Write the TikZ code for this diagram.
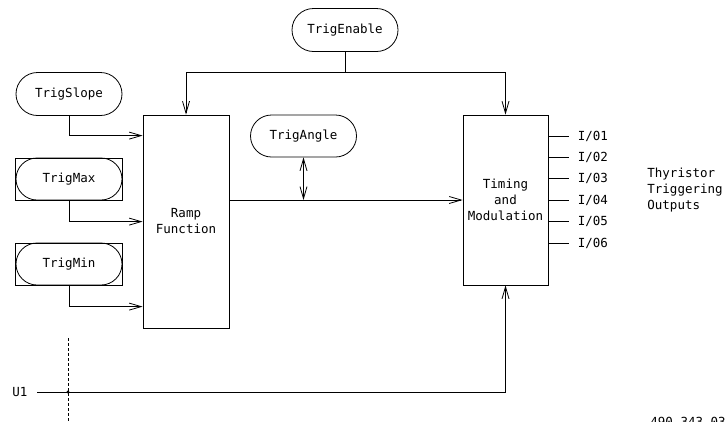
\documentclass[tikz,border=0pt]{standalone}
\usepackage{fontspec}
\newfontfamily\drawfont{DejaVu Sans Mono}
\usetikzlibrary{arrows.meta,shapes.misc}

\begin{document}
\begin{tikzpicture}[
        x=1pt, y=-1pt,
        line width=0.8pt,
        font=\drawfont\fontsize{12.5}{16}\selectfont,
        pill/.style={draw, rounded rectangle, minimum width=106pt, minimum height=43pt, inner sep=0pt},
        frame/.style={draw, rectangle, minimum width=107pt, minimum height=42pt, inner sep=0pt},
        block/.style={draw, rectangle, align=center, inner sep=0pt},
        arr/.style={-{Straight Barb[length=12pt,width=7pt]}},
        dblarr/.style={{Straight Barb[length=12pt,width=7pt]}-{Straight Barb[length=12pt,width=7pt]}}
    ]
        \useasboundingbox (0,0) rectangle (727,421);

        % inputs
        \node[pill] (trigenable) at (345,30) {TrigEnable};
        \node[pill] (trigslope) at (69,94) {TrigSlope};
        \node[frame] (maxframe) at (69,179) {};
        \node[pill, minimum height=42pt] (trigmax) at (69,179) {TrigMax};
        \node[frame] (minframe) at (69,264) {};
        \node[pill, minimum height=42pt] (trigmin) at (69,264) {TrigMin};
        \node[pill, minimum height=42pt] (trigangle) at (303.5,136) {TrigAngle};

        % blocks
        \node[block, minimum width=86pt, minimum height=213pt] (ramp) at (186,221.5) {Ramp\\Function};
        \node[block, minimum width=85pt, minimum height=170pt] (timing) at (505.5,200) {Timing\\and\\Modulation};

        % enable split
        \coordinate (split) at (345,72);
        \draw (trigenable.south) -- (split);
        \draw[arr] (split) -| (ramp.north);
        \draw[arr] (split) -| (timing.north);

        % ramp inputs
        \draw[arr] (trigslope.south) |- ([yshift=-21pt]ramp.north west);
        \draw[arr] (trigmax.south) |- ([yshift=-107pt]ramp.north west);
        \draw[arr] (trigmin.south) |- ([yshift=-192pt]ramp.north west);

        % main path
        \draw[arr] (timing.west -| ramp.east) -- (timing.west);
        \draw[dblarr] (trigangle.south) -- (trigangle.south |- timing.west);

        % outputs
        \foreach \i in {1,...,6}
            \draw ([yshift=-21.4*\i pt]timing.north east) -- ++(21,0)
                node[anchor=west, xshift=6pt, inner sep=2pt] (out\i) {I/0\i};
        \node[anchor=west, align=left, inner sep=0pt] (thyr) at (647,190) {Thyristor\\Triggering\\Outputs};

        % supply
        \node (u1) at (20,392) {U1};
        \coordinate (u1start) at (37,392);
        \draw[arr] (u1start) -| (timing.south);
        \coordinate (cuttop) at (68,338);
        \coordinate (cutbot) at (68,421);
        \draw[dashed, line width=0.5pt, dash pattern=on 3pt off 2pt] (cuttop) -- (cutbot);
        \fill (68,392) circle (1.6pt);

        \node[anchor=north west, inner sep=0pt] (docnum) at (650,417) {490-343-03};
    \end{tikzpicture}
\end{document}
